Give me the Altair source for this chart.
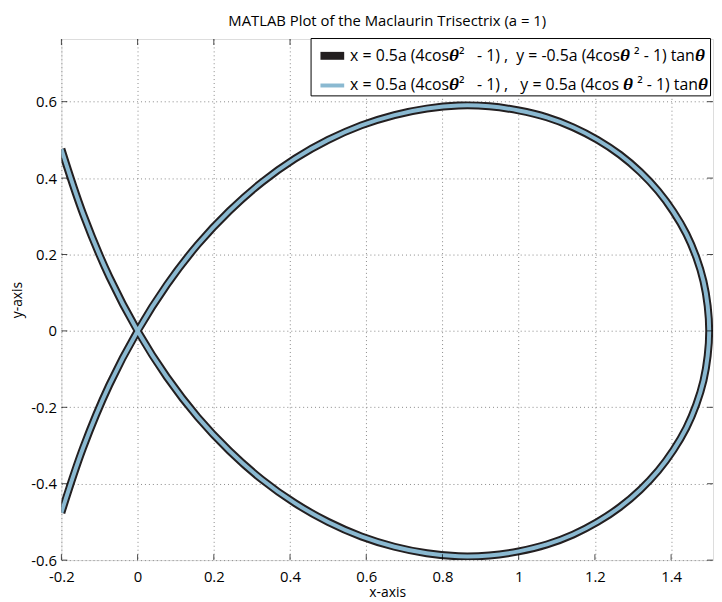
import altair as alt
import pandas as pd

# Points read along the trisectrix loop (theta from -67.2 deg to 67.2 deg)
xs = [-0.200, -0.143, -0.074, 0.000, 0.077, 0.158, 0.241, 0.326, 0.413, 0.500,
      0.587, 0.674, 0.759, 0.842, 0.923, 1.000, 1.074, 1.143, 1.207, 1.266,
      1.319, 1.366, 1.406, 1.440, 1.466, 1.485, 1.496, 1.500,
      1.496, 1.485, 1.466, 1.440, 1.406, 1.366, 1.319, 1.266, 1.207, 1.143,
      1.074, 1.000, 0.923, 0.842, 0.759, 0.674, 0.587, 0.500, 0.413, 0.326,
      0.241, 0.158, 0.077, 0.000, -0.074, -0.143, -0.200]
ys_blue = [0.476, 0.306, 0.141, 0.000, -0.121, -0.226, -0.314, -0.389, -0.451, -0.500,
           -0.538, -0.565, -0.582, -0.590, -0.588, -0.577, -0.559, -0.533, -0.500, -0.461,
           -0.416, -0.366, -0.312, -0.254, -0.193, -0.130, -0.065, 0.000,
           0.065, 0.130, 0.193, 0.254, 0.312, 0.366, 0.416, 0.461, 0.500, 0.533,
           0.559, 0.577, 0.588, 0.590, 0.582, 0.565, 0.538, 0.500, 0.451, 0.389,
           0.314, 0.226, 0.121, 0.000, -0.141, -0.306, -0.476]
ys_black = [-0.476, -0.306, -0.141, 0.000, 0.121, 0.226, 0.314, 0.389, 0.451, 0.500,
            0.538, 0.565, 0.582, 0.590, 0.588, 0.577, 0.559, 0.533, 0.500, 0.461,
            0.416, 0.366, 0.312, 0.254, 0.193, 0.130, 0.065, 0.000,
            -0.065, -0.130, -0.193, -0.254, -0.312, -0.366, -0.416, -0.461, -0.500, -0.533,
            -0.559, -0.577, -0.588, -0.590, -0.582, -0.565, -0.538, -0.500, -0.451, -0.389,
            -0.314, -0.226, -0.121, 0.000, 0.141, 0.306, 0.476]

NB = "\u00a0"
TH = "\U0001D73D"  # bold italic theta
series_names = [
    "x = 0.5a (4cos" + TH + "\u00b2" + NB * 3 + "- 1) ," + NB * 2 + "y = -0.5a (4cos" + TH + NB + "\u00b2 - 1) tan" + TH,
    "x = 0.5a (4cos" + TH + "\u00b2" + NB * 3 + "- 1) ," + NB * 3 + "y = 0.5a (4cos" + NB + TH + NB + "\u00b2 - 1) tan" + TH,
]
colors = ["#231f20", "#8ab9d1"]
widths = [8, 4]

x_ticks = [-0.2, 0, 0.2, 0.4, 0.6, 0.8, 1, 1.2, 1.4]
y_ticks = [-0.6, -0.4, -0.2, 0, 0.2, 0.4, 0.6]

W, H = 659, 527
XDOM = [-0.2, 1.51]
YDOM = [-0.6, 0.764]
FONT = "Open Sans"

rows = []
for i, (x, y) in enumerate(zip(xs, ys_black)):
    rows.append({"x": x, "y": y, "series": series_names[0], "o": i})
for i, (x, y) in enumerate(zip(xs, ys_blue)):
    rows.append({"x": x, "y": y, "series": series_names[1], "o": i})
df = pd.DataFrame(rows)

xscale = alt.Scale(domain=XDOM, nice=False, zero=False)
yscale = alt.Scale(domain=YDOM, nice=False, zero=False)

legend = alt.Legend(
    title=None, orient="none", legendX=252, legendY=-1,
    direction="vertical", symbolType="stroke", symbolSize=576,
    labelFont=FONT, labelFontSize=16, labelColor="black",
    strokeColor="black", fillColor="white", padding=2, rowPadding=0,
    labelLimit=600, cornerRadius=0, symbolOffset=4, labelOffset=2,
)

color = alt.Color("series:N", scale=alt.Scale(domain=series_names, range=colors), legend=legend)
sw = alt.StrokeWidth("series:N", scale=alt.Scale(domain=series_names, range=widths), legend=legend)

xaxis = alt.Axis(values=x_ticks, grid=True, gridDash=[1, 3], gridColor="#888888",
                 gridOpacity=1, ticks=False, domain=False, labelFont=FONT,
                 labelFontSize=15, labelColor="black", title="x-axis",
                 titleFont=FONT, titleFontSize=14, titleFontWeight="normal",
                 titleColor="black", titlePadding=1, labelPadding=10,
                 labelFlush=False, labelExpr="datum.value")
yaxis = alt.Axis(values=y_ticks, grid=True, gridDash=[1, 3], gridColor="#888888",
                 gridOpacity=1, ticks=False, domain=False, labelFont=FONT,
                 labelFontSize=15, labelColor="black", title="y-axis",
                 titleFont=FONT, titleFontSize=14, titleFontWeight="normal",
                 titleColor="black", titlePadding=6, labelPadding=5,
                 labelFlush=False, labelExpr="datum.value")

base = alt.Chart(df)

black = base.transform_filter(alt.datum.series == series_names[0]).mark_line(
    strokeCap="butt", strokeJoin="round", clip=True, interpolate="catmull-rom"
).encode(
    x=alt.X("x:Q", scale=xscale, axis=xaxis),
    y=alt.Y("y:Q", scale=yscale, axis=yaxis),
    order="o:Q", color=color, strokeWidth=sw,
)
blue = base.transform_filter(alt.datum.series == series_names[1]).mark_line(
    strokeCap="butt", strokeJoin="round", clip=True, interpolate="catmull-rom"
).encode(
    x=alt.X("x:Q", scale=xscale),
    y=alt.Y("y:Q", scale=yscale),
    order="o:Q", color=color, strokeWidth=sw,
)

xt = pd.DataFrame({"t": x_ticks})
yt = pd.DataFrame({"t": y_ticks})
TK = dict(color="black", size=6, thickness=1)
tick_bottom = alt.Chart(xt).mark_tick(**TK).encode(
    x=alt.X("t:Q", scale=xscale), y=alt.value(H - 3))
tick_top = alt.Chart(xt).mark_tick(**TK).encode(
    x=alt.X("t:Q", scale=xscale), y=alt.value(3))
tick_left = alt.Chart(yt).mark_tick(**TK).encode(
    y=alt.Y("t:Q", scale=yscale), x=alt.value(3))
tick_right = alt.Chart(yt).mark_tick(**TK).encode(
    y=alt.Y("t:Q", scale=yscale), x=alt.value(W - 3))

chart = alt.layer(black, blue, tick_bottom, tick_top, tick_left, tick_right).properties(
    width=W, height=H,
    title=alt.Title("MATLAB Plot of the Maclaurin Trisectrix (a = 1)", font=FONT,
                    fontSize=15, fontWeight="normal", color="black", offset=9, anchor="middle"),
    autosize=alt.AutoSizeParams(type="none"),
    padding={"left": 54, "top": 28, "right": 1, "bottom": 40},
).configure_view(stroke="black", strokeWidth=1.5).configure(background="white")

chart.save("out.html", embed_options={"renderer": "svg", "actions": False})
